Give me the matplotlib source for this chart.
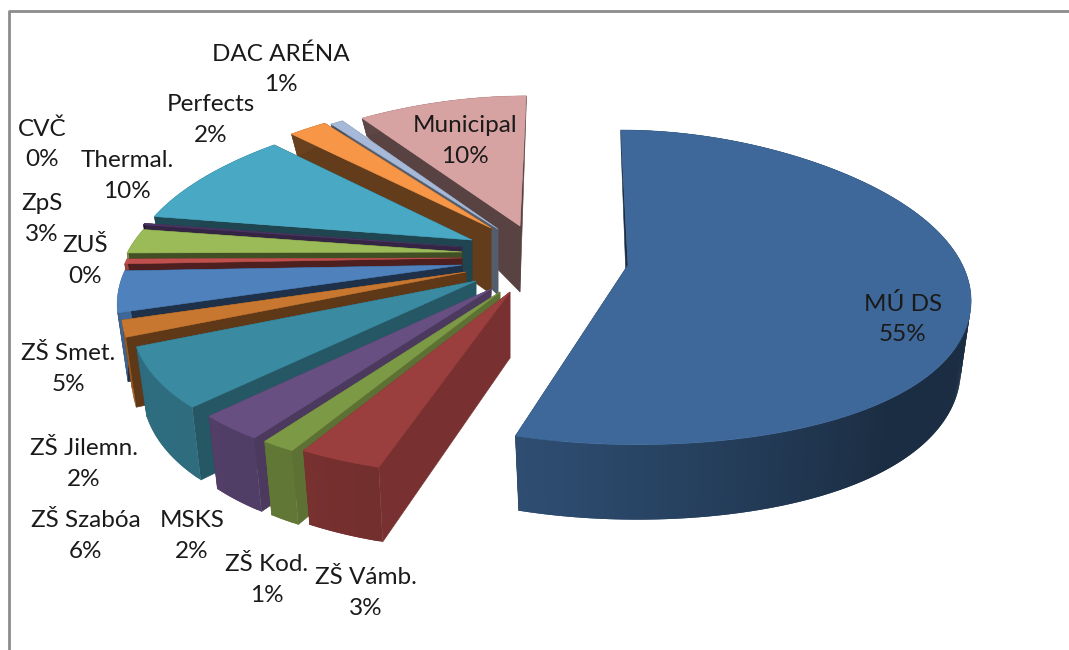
import numpy as np
import matplotlib
matplotlib.use("Agg")
import matplotlib.pyplot as plt
from matplotlib.collections import PolyCollection

# shares in percent, clockwise from the top
names = ["MÚ DS", "ZŠ Vámb.", "ZŠ Kod.", "MSKS", "ZŠ Szabóa", "ZŠ Jilemn.", "ZŠ Smet.",
         "ZUŠ", "ZpS", "CVČ", "Thermal.", "Perfects", "DAC ARÉNA", "Municipal"]
values = [54.6, 3.3, 1.4, 2.8, 6.4, 1.7, 4.2, 0.5, 2.5, 0.15, 9.65, 2.1, 0.7, 10.0]
percent_labels = ["55%", "3%", "1%", "2%", "6%", "2%", "5%", "0%", "3%", "0%", "10%", "2%", "1%", "10%"]

# styling, per slice
colors = ["#3E6899", "#9A3F3D", "#7C9945", "#684F82", "#3A8AA1", "#C77730", "#4F81BD",
          "#C0504D", "#9BBB59", "#4A3563", "#49A9C4", "#F79646", "#A6B9D8", "#D7A3A2"]
side_dark = [0.43, 0.78, 0.74, 0.72, 0.63, 0.47, 0.38, 0.4, 0.42, 0.7, 0.41, 0.4, 0.5, 0.41]
apex = [(628, 265), (510, 292), (500, 292), (491, 289), (476, 281), (466, 272), (462, 265),
        (462, 258), (462, 252), (462, 247), (472, 240), (491, 228), (498, 229), (520, 226)]
label_xy = [(903, 319), (366, 593), (267, 580), (192, 536), (86, 536), (84, 464), (68, 369),
            (85, 261), (42, 219), (42, 144), (127, 176), (211, 120), (281, 69), (465, 141)]

start_angle = 90.0
R, Ry, persp = 342.0, 152.0, 0.142
vp_x, vp_y = 570.0, 250.0
bottom_scale = 0.97

# widening of the ellipse towards the viewer, smooth so the rim has no kink
x_poly = np.polyfit([-1, -0.7, -0.3, 0, 0.4, 0.7, 1], [1.1, 1.01, 1.0, 1.0, 0.95, 0.9, 0.88], 3)


def height(y):
    return np.interp(y, [-1, -0.4, 0, 0.5, 0.8, 1], [75, 70, 66, 30, 18, 15])


def project(r, th, x0, y0, lower=False):
    X = r*np.cos(th)
    Y = r*np.sin(th)
    s = 1/(1 + persp*Y)
    px = (x0 - vp_x)*(s - 1) + R*X*np.polyval(x_poly, Y)*s
    py = (y0 - vp_y)*(s - 1) - Ry*Y*s
    if lower:
        px = px*bottom_scale
        py = py + height(Y)
    return x0 + px, y0 + py


def wall_shade(th_deg):
    a = (th_deg + 180) % 360 - 180
    return np.interp(a, [-180, -120, -100, -50, 0, 180], [0.8, 0.78, 0.72, 0.43, 0.43, 0.43])


def dark(color, f):
    return tuple(np.array(matplotlib.colors.to_rgb(color))*f)


fig = plt.figure(figsize=(10.69, 6.5), dpi=100)
ax = fig.add_axes([0, 0, 1, 1])
ax.set_xlim(0, 1069)
ax.set_ylim(650, 0)
ax.axis("off")

ax.plot([9, 9, 1069], [650, 11, 11], color="#8C8C8C", lw=2, zorder=1)

# slice angles from the values
sweep = np.array(values)/sum(values)*360
ends = start_angle - np.cumsum(sweep)
starts = ends + sweep
mids = np.radians((starts + ends)/2)

# back slices first
order = np.argsort(-np.sin(mids))
z = 2
for i in order:
    x0, y0 = apex[i]
    col = colors[i]
    th = np.radians(np.linspace(starts[i], ends[i], max(int(sweep[i]*1.5), 3)))

    # radial side walls
    for a in [th[0], th[-1]]:
        tx, ty = project(1, a, x0, y0)
        bx, by = project(1, a, x0, y0, lower=True)
        ax.fill([x0, tx, bx, x0], [y0, ty, by, y0 + height(0)],
                color=dark(col, side_dark[i]), lw=0.4, zorder=z)
    z += 1

    # rim in short overlapping strips for the shading
    tx, ty = project(1, th, x0, y0)
    bx, by = project(1, th, x0, y0, lower=True)
    strips = []
    shades = []
    for k in range(len(th) - 1):
        k2 = min(k + 2, len(th) - 1)
        strips.append([(tx[k], ty[k]), (tx[k2], ty[k2]), (bx[k2], by[k2]), (bx[k], by[k])])
        shades.append(dark(col, wall_shade(np.degrees(th[k]))))
    ax.add_collection(PolyCollection(strips, facecolors=shades, edgecolors="none", zorder=z))
    z += 1

    # top face
    ax.fill(np.r_[x0, tx], np.r_[y0, ty], color=col, lw=0.4, zorder=z)
    z += 1

for i in range(len(names)):
    ax.text(label_xy[i][0], label_xy[i][1], names[i] + "\n" + percent_labels[i], ha="center", va="center",
            ma="center", fontsize=17.5, family="Lato", color="#1A1A1A", linespacing=1.55, zorder=z)

plt.savefig("out.png", dpi=100)
